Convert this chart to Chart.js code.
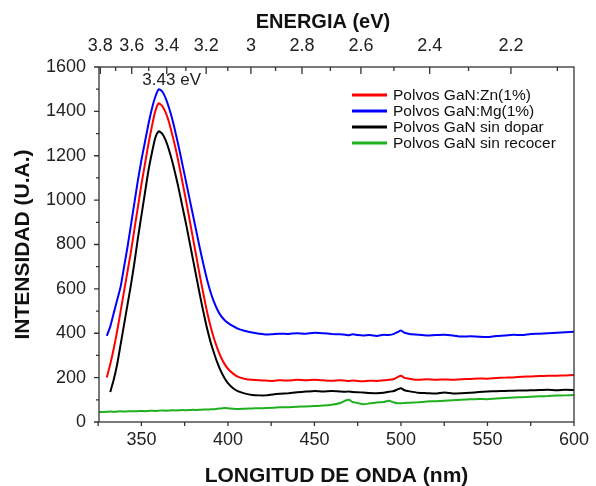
<!DOCTYPE html>
<html>
<head>
<meta charset="utf-8">
<script src="https://cdn.jsdelivr.net/npm/chart.js@4.4.1/dist/chart.umd.min.js"></script>
<style>
  html, body { margin: 0; padding: 0; background: #fff; }
</style>
</head>
<body>
<canvas id="chart" width="596" height="486"></canvas>
<script>
'use strict';

// wavelength samples (nm) shared by all four spectra
let wavelengths = [325.5, 330, 332, 334, 336, 338, 340, 342, 344, 346, 348, 350, 352, 354, 356, 358, 360,
  362, 364, 366, 368, 370, 372, 374, 376, 378, 380, 382, 384, 386, 388, 390, 392, 394, 396, 398, 400,
  403, 406, 410, 414, 418, 422, 426, 430, 435, 440, 445, 450, 455, 460, 465,
  468, 470, 472, 475, 478, 482, 486, 490, 493, 496, 498, 500, 502, 505,
  510, 515, 520, 525, 530, 535, 540, 545, 550, 555, 560, 565, 570, 575, 580, 585, 590, 595, 600];

let zincValues = [null, 201, 260, 330, 410, 500, 590, 680, 770, 870, 970, 1070, 1160, 1250, 1330, 1400, 1436,
  1425, 1395, 1350, 1290, 1225, 1150, 1070, 990, 905, 820, 735, 650, 570, 495, 430, 375, 330, 292, 262, 240,
  218, 203, 194, 190, 188, 187, 185, 188, 187, 190, 188, 190, 188, 186, 188,
  186, 185, 187, 185, 184, 186, 185, 188, 190, 194, 202, 208, 199, 195,
  190, 193, 190, 192, 190, 193, 194, 196, 195, 198, 200, 201, 204, 205, 207, 208, 209, 210, 212];

let magnesiumValues = [null, 388, 430, 490, 550, 610, 700, 790, 890, 990, 1090, 1180, 1260, 1340, 1410, 1465, 1500,
  1490, 1460, 1415, 1360, 1295, 1225, 1150, 1075, 1000, 925, 850, 775, 705, 640, 585, 540, 505, 478, 460, 447,
  432, 420, 410, 403, 398, 394, 396, 398, 397, 400, 398, 402, 400, 397, 395,
  393, 391, 395, 392, 390, 392, 388, 393, 392, 397, 405, 412, 402, 397,
  393, 390, 392, 393, 390, 385, 386, 384, 383, 388, 390, 393, 392, 397, 398, 400, 402, 404, 407];

let undopedValues = [null, null, 135, 190, 260, 350, 440, 530, 620, 720, 830, 930, 1030, 1130, 1210, 1280, 1310,
  1300, 1270, 1225, 1170, 1105, 1035, 960, 885, 805, 725, 645, 565, 490, 420, 360, 310, 265, 228, 198, 175,
  152, 138, 128, 122, 120, 120, 124, 127, 130, 134, 137, 140, 138, 140, 137,
  136, 138, 135, 134, 133, 131, 130, 132, 136, 140, 147, 152, 143, 138,
  132, 130, 128, 133, 129, 130, 132, 135, 137, 139, 140, 141, 142, 143, 144, 145, 143, 145, 144];

let unannealedValues = [45, 46, 47, 46, 47, 48, 47, 48, 49, 48, 49, 50, 49, 50, 51, 50, 51,
  52, 51, 52, 53, 52, 53, 54, 53, 54, 55, 54, 55, 56, 56, 57, 58, 60, 61, 63, 62,
  60, 59, 60, 61, 62, 63, 64, 66, 67, 69, 70, 72, 74, 78, 86,
  97, 100, 90, 86, 80, 84, 88, 90, 96, 88, 85, 84, 86, 87,
  89, 92, 94, 96, 98, 100, 102, 104, 103, 106, 108, 110, 112, 114, 116, 117, 119, 120, 122];

let seriesNames = ['Polvos GaN:Zn(1%)', 'Polvos GaN:Mg(1%)', 'Polvos GaN sin dopar', 'Polvos GaN sin recocer'];
let seriesColors = ['#ff0000', '#0000ff', '#000000', '#1fb01f'];
let seriesValues = [zincValues, magnesiumValues, undopedValues, unannealedValues];

let wavelengthTicks = [350, 400, 450, 500, 550, 600];
let intensityTicks = [0, 200, 400, 600, 800, 1000, 1200, 1400, 1600];
let energyTicks = [3.8, 3.6, 3.4, 3.2, 3, 2.8, 2.6, 2.4, 2.2];
let energyMinorTicks = [3.7, 3.5, 3.3, 3.1, 2.9, 2.7, 2.5, 2.3, 2.1];
let peakLabel = {text: '3.43 eV', nm: 367.5, value: 1540};

const HC = 1239.84; // eV*nm
const FONT = "'Liberation Sans', Arial, sans-serif";
const AXIS_COLOR = '#333';

let datasets = [];
for (let i = 0; i < seriesNames.length; i++) {
  datasets.push({
    label: seriesNames[i],
    data: wavelengths.map((w, j) => ({x: w, y: seriesValues[i][j]})),
    borderColor: seriesColors[i],
    borderWidth: 2,
    pointRadius: 0,
    fill: false,
    tension: 0.2,
    spanGaps: false
  });
}

// frame, tick marks, legend and labels drawn on top of the chart
let decorPlugin = {
  id: 'decor',
  afterDraw(chart) {
    let ctx = chart.ctx;
    let a = chart.chartArea;
    let x = chart.scales.x;
    let y = chart.scales.y;
    ctx.save();
    ctx.strokeStyle = AXIS_COLOR;
    ctx.lineWidth = 1.3;
    ctx.strokeRect(a.left, a.top, a.right - a.left, a.bottom - a.top);

    ctx.beginPath();
    // left axis: major 200, minor 100
    for (let v = intensityTicks[0]; v <= intensityTicks[intensityTicks.length - 1]; v += 100) {
      let py = y.getPixelForValue(v);
      let len = v % 200 === 0 ? 5 : 3;
      ctx.moveTo(a.left - len, py);
      ctx.lineTo(a.left, py);
    }
    // bottom axis: every 25 nm
    for (let v = 325; v <= 600; v += 25) {
      let px = x.getPixelForValue(v);
      if (px < a.left - 1) continue;
      ctx.moveTo(px, a.bottom);
      ctx.lineTo(px, a.bottom + 4);
    }
    // top axis (energy), ticks inward
    energyTicks.forEach(e => {
      let px = x.getPixelForValue(HC / e);
      ctx.moveTo(px, a.top);
      ctx.lineTo(px, a.top + 7);
    });
    energyMinorTicks.forEach(e => {
      let px = x.getPixelForValue(HC / e);
      ctx.moveTo(px, a.top);
      ctx.lineTo(px, a.top + 4);
    });
    ctx.stroke();

    // legend
    ctx.font = '15.5px ' + FONT;
    ctx.textBaseline = 'middle';
    ctx.textAlign = 'left';
    for (let i = 0; i < seriesNames.length; i++) {
      let rowY = 95 + i * 16;
      ctx.strokeStyle = seriesColors[i];
      ctx.lineWidth = 3;
      ctx.beginPath();
      ctx.moveTo(352, rowY);
      ctx.lineTo(387, rowY);
      ctx.stroke();
      ctx.fillStyle = '#111';
      ctx.fillText(seriesNames[i], 393, rowY + 1);
    }

    // peak annotation
    ctx.font = '17px ' + FONT;
    ctx.textAlign = 'center';
    ctx.fillStyle = '#222';
    ctx.fillText(peakLabel.text, x.getPixelForValue(peakLabel.nm), y.getPixelForValue(peakLabel.value));

    // top axis title
    ctx.font = 'bold 20px ' + FONT;
    ctx.fillStyle = '#111';
    ctx.fillText('ENERGIA (eV)', 323, 22);
    ctx.restore();
  }
};

let tickFont = {family: FONT, size: 18};

let chart = new Chart(document.getElementById('chart').getContext('2d'), {
  type: 'line',
  data: {datasets: datasets},
  options: {
    responsive: false,
    animation: false,
    devicePixelRatio: 1,
    layout: {padding: {left: 0, right: 19, top: 0, bottom: 0}},
    plugins: {legend: {display: false}, tooltip: {enabled: false}},
    scales: {
      x: {
        type: 'linear',
        position: 'bottom',
        min: 325.5,
        max: 600,
        afterBuildTicks: s => { s.ticks = wavelengthTicks.map(v => ({value: v})); },
        afterFit: s => { s.height = 64; },
        grid: {display: false, drawTicks: false},
        border: {display: false},
        ticks: {font: tickFont, color: '#222', padding: 7, maxRotation: 0, autoSkip: false,
          callback: v => String(v)},
        title: {
          display: true,
          text: 'LONGITUD DE ONDA (nm)',
          color: '#111',
          font: {family: FONT, size: 21, weight: 'bold', lineHeight: 1},
          padding: {top: 0, bottom: -1}
        }
      },
      xTop: {
        type: 'linear',
        position: 'top',
        min: 325.5,
        max: 600,
        afterBuildTicks: s => { s.ticks = energyTicks.map(e => ({value: HC / e})); },
        afterFit: s => { s.height = 67; },
        grid: {display: false, drawTicks: false},
        border: {display: false},
        ticks: {
          font: tickFont,
          color: '#222',
          padding: 10,
          maxRotation: 0,
          autoSkip: false,
          callback: (value, index) => String(energyTicks[index])
        }
      },
      y: {
        type: 'linear',
        position: 'left',
        min: 0,
        max: 1600,
        afterBuildTicks: s => { s.ticks = intensityTicks.map(v => ({value: v})); },
        afterFit: s => { s.width = 99; },
        grid: {display: false, drawTicks: false},
        border: {display: false},
        ticks: {font: tickFont, color: '#222', padding: 13, callback: v => String(v)},
        title: {
          display: true,
          text: 'INTENSIDAD (U.A.)',
          color: '#111',
          font: {family: FONT, size: 21, weight: 'bold', lineHeight: 1},
          padding: {top: 13, bottom: 0}
        }
      }
    }
  },
  plugins: [decorPlugin]
});
</script>
</body>
</html>
